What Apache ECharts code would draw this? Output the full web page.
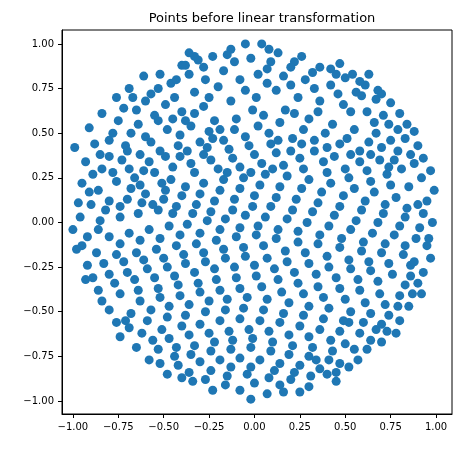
<!DOCTYPE html>
<html>
<head>
<meta charset="utf-8">
<script src="https://cdn.jsdelivr.net/npm/echarts@6/dist/echarts.min.js"></script>
<style>html,body{margin:0;padding:0;background:#fff}#main{width:461px;height:449px}</style>
</head>
<body>
<div id="main"></div>
<script>
var tickValues = [-1, -0.75, -0.5, -0.25, 0, 0.25, 0.5, 0.75, 1];
// points (x, y)
var points = [
[-0.05,1.00],[0.04,1.00],[-0.23,0.93],[-0.31,0.91],[-0.40,0.88],[-0.52,0.83],[-0.61,0.82],[-0.69,0.75],[-0.76,0.70],[-0.84,0.61],[-0.91,0.53],[-0.99,0.42],
[-0.96,0.03],[-1.00,-0.04],[-0.92,-0.24],[-0.86,-0.38],[-0.80,-0.49],[-0.74,-0.64],[-0.69,-0.59],[-0.58,-0.77],[-0.48,-0.85],[-0.34,-0.89],[-0.23,-0.94],[-0.02,-0.99],[-0.08,-0.94],
[0.98,0.00],[0.97,-0.20],[0.99,0.18],[0.97,0.29],[0.90,0.43],[0.88,0.51],[0.80,0.61],[0.75,0.67],[0.61,0.77],[0.50,0.81],[0.36,0.87],[0.22,0.90],[0.13,0.95],
[0.92,-0.40],[0.85,-0.47],[0.78,-0.62],[0.70,-0.67],[0.62,-0.71],[0.52,-0.81],[0.40,-0.85],[0.30,-0.92],[0.16,-0.95],[0.07,-0.96],
[-0.13,0.97],[-0.02,0.92],[0.09,0.90],[-0.17,0.85],[-0.27,0.80],[-0.36,0.83],[-0.46,0.78],[-0.57,0.72],[-0.44,0.70],[-0.33,0.73],[-0.20,0.76],[-0.08,0.80],[0.02,0.83],[0.16,0.82],[0.28,0.80],[0.42,0.77],[0.56,0.73],[0.67,0.69],
[-0.65,0.63],[-0.75,0.57],[-0.55,0.60],[-0.40,0.62],[-0.28,0.65],[-0.13,0.68],[0.01,0.70],[0.12,0.74],[0.24,0.70],[0.36,0.68],[0.49,0.66],[0.62,0.62],[0.74,0.55],[0.83,0.47],
[-0.88,0.44],[-0.80,0.46],[-0.68,0.50],[-0.60,0.48],[-0.48,0.52],[-0.35,0.54],[-0.22,0.57],[-0.10,0.58],[0.05,0.60],[0.17,0.63],[0.30,0.58],[0.43,0.55],[0.55,0.52],[0.67,0.50],[0.79,0.40],[0.88,0.33],
[-0.93,0.34],[-0.84,0.30],[-0.73,0.35],[-0.63,0.38],[-0.52,0.40],[-0.42,0.43],[-0.30,0.45],[-0.17,0.46],[-0.05,0.48],[0.08,0.50],[0.21,0.47],[0.33,0.46],[0.47,0.44],[0.58,0.40],[0.70,0.42],[0.81,0.30],[0.92,0.25],
[-0.95,0.22],[-0.86,0.18],[-0.76,0.23],[-0.66,0.25],[-0.55,0.28],[-0.45,0.31],[-0.35,0.33],[-0.24,0.35],[-0.12,0.36],[0.00,0.38],[0.12,0.39],[0.25,0.36],[0.38,0.34],[0.50,0.30],[0.62,0.29],[0.73,0.27],[0.85,0.20],
[-0.90,0.10],[-0.80,0.12],[-0.70,0.13],[-0.60,0.16],[-0.49,0.18],[-0.38,0.20],[-0.28,0.22],[-0.17,0.24],[-0.06,0.25],[0.06,0.27],[0.18,0.26],[0.30,0.24],[0.42,0.22],[0.55,0.19],[0.66,0.17],[0.78,0.14],[0.90,0.10],
[-0.85,0.01],[-0.74,0.03],[-0.64,0.05],[-0.53,0.07],[-0.43,0.09],[-0.32,0.10],[-0.22,0.12],[-0.11,0.13],[0.00,0.15],[0.12,0.14],[0.23,0.13],[0.35,0.11],[0.47,0.09],[0.59,0.07],[0.71,0.05],[0.83,0.03],[0.93,0.05],
[-0.92,-0.08],[-0.80,-0.08],[-0.69,-0.06],[-0.58,-0.04],[-0.47,-0.02],[-0.37,-0.01],[-0.26,0.01],[-0.16,0.02],[-0.05,0.04],[0.06,0.03],[0.18,0.02],[0.29,0.00],[0.41,-0.02],[0.53,-0.04],[0.65,-0.06],[0.77,-0.07],[0.89,-0.09],
[-0.87,-0.17],[-0.76,-0.18],[-0.65,-0.17],[-0.54,-0.15],[-0.43,-0.13],[-0.32,-0.12],[-0.21,-0.10],[-0.10,-0.08],[0.01,-0.07],[0.12,-0.09],[0.24,-0.11],[0.35,-0.12],[0.47,-0.14],[0.59,-0.16],[0.70,-0.17],[0.82,-0.18],[0.93,-0.28],
[-0.80,-0.29],[-0.70,-0.28],[-0.59,-0.26],[-0.48,-0.25],[-0.38,-0.23],[-0.27,-0.22],[-0.16,-0.20],[-0.05,-0.19],[0.07,-0.20],[0.18,-0.22],[0.30,-0.23],[0.41,-0.25],[0.53,-0.26],[0.64,-0.27],[0.76,-0.29],[0.86,-0.30],
[-0.74,-0.40],[-0.64,-0.38],[-0.53,-0.37],[-0.42,-0.35],[-0.31,-0.34],[-0.21,-0.32],[-0.10,-0.31],[0.01,-0.30],[0.13,-0.32],[0.24,-0.34],[0.35,-0.36],[0.47,-0.37],[0.58,-0.38],[0.69,-0.40],[0.80,-0.41],
[-0.68,-0.51],[-0.57,-0.49],[-0.47,-0.47],[-0.36,-0.46],[-0.25,-0.44],[-0.15,-0.43],[-0.04,-0.42],[0.07,-0.43],[0.19,-0.45],[0.30,-0.47],[0.41,-0.48],[0.53,-0.50],[0.64,-0.51],[0.74,-0.52],
[-0.62,-0.62],[-0.51,-0.60],[-0.40,-0.58],[-0.30,-0.57],[-0.19,-0.55],[-0.08,-0.54],[0.03,-0.55],[0.14,-0.56],[0.25,-0.58],[0.36,-0.60],[0.47,-0.61],[0.58,-0.62],[0.67,-0.60],
[-0.53,-0.71],[-0.43,-0.70],[-0.33,-0.69],[-0.22,-0.67],[-0.12,-0.66],[-0.01,-0.65],[0.10,-0.67],[0.21,-0.69],[0.32,-0.70],[0.43,-0.72],[0.55,-0.71],
[-0.42,-0.80],[-0.30,-0.78],[-0.19,-0.77],[-0.08,-0.76],[0.03,-0.77],[0.14,-0.79],[0.25,-0.80],[0.36,-0.82],[0.47,-0.79],
[-0.27,-0.88],[-0.15,-0.86],[-0.04,-0.85],[0.08,-0.87],[0.20,-0.88],[0.31,-0.86],
[-0.80,0.37],[-0.69,0.30],[-0.58,0.34],[-0.46,0.24],[-0.33,0.28],[-0.20,0.30],[-0.08,0.31],[0.04,0.33],[0.16,0.32],[0.27,0.30],[0.40,0.28],[0.52,0.25],[0.64,0.23],[0.75,0.21],
[-0.83,-0.23],[-0.72,-0.22],[-0.61,-0.21],[-0.50,-0.20],[-0.39,-0.18],[-0.28,-0.17],[-0.17,-0.15],[-0.06,-0.14],[0.05,-0.13],[0.17,-0.16],[0.28,-0.17],[0.40,-0.19],[0.52,-0.21],[0.63,-0.22],[0.74,-0.23],[0.86,-0.24],
[-0.60,0.68],[-0.49,0.66],[-0.38,0.57],[-0.25,0.51],[-0.11,0.52],[0.02,0.54],[0.14,0.56],[0.27,0.52],[0.39,0.50],[0.51,0.47],[0.63,0.45],[0.75,0.46],
[-0.63,-0.44],[-0.52,-0.42],[-0.41,-0.41],[-0.30,-0.39],[-0.19,-0.38],[-0.08,-0.37],[0.04,-0.36],[0.15,-0.39],[0.27,-0.40],[0.38,-0.42],[0.50,-0.43],[0.61,-0.45],[0.72,-0.46],[0.83,-0.35],
[-0.38,0.88],[-0.28,0.87],[-0.11,0.90],[0.07,0.86],[0.20,0.87],[0.32,0.84],[0.45,0.83],[0.58,0.79],[0.68,0.74],
[-0.47,-0.65],[-0.36,-0.63],[-0.25,-0.62],[-0.14,-0.61],[-0.03,-0.60],[0.08,-0.61],[0.19,-0.63],[0.30,-0.64],[0.42,-0.66],[0.52,-0.56],
[-0.74,0.09],[-0.62,0.11],[-0.50,0.13],[-0.40,0.15],[-0.30,0.16],[-0.19,0.18],[-0.08,0.19],[0.03,0.21],[0.14,0.20],[0.26,0.19],[0.37,0.17],[0.49,0.15],[0.61,0.12],[0.72,0.10],[0.84,0.08]
];
// denser clumps seen in the picture
var clumps = [
[-0.33,0.93],[-0.36,0.95],[-0.15,0.94],[0.08,0.97],[0.26,0.93],[0.42,0.86],[0.54,0.83],[0.47,0.89],[0.63,0.83],[0.59,0.71],[0.71,0.60],
[-0.53,0.57],[-0.57,0.45],[-0.49,0.37],[-0.41,0.49],[-0.45,0.58],[-0.33,0.61],[-0.26,0.42],[-0.14,0.41],[-0.19,0.52],[-0.03,0.43],[-0.01,0.63],[0.09,0.44],[0.22,0.61],[0.35,0.62],
[-0.71,0.43],[-0.78,0.28],[-0.63,0.21],[-0.51,0.22],[-0.41,0.37],[-0.28,0.38],[-0.15,0.28],[-0.02,0.28],[0.10,0.30],[0.20,0.40],[0.33,0.40],[0.44,0.37],[0.58,0.34],[0.69,0.35],[0.77,0.35],[0.86,0.38],
[-0.89,0.27],[-0.91,0.17],[-0.82,0.07],[-0.68,0.19],[-0.56,0.10],[-0.45,0.05],[-0.34,0.05],[-0.24,0.06],[-0.12,0.07],[-0.01,0.09],[0.09,0.09],[0.21,0.07],[0.32,0.06],[0.44,0.04],[0.56,0.01],[0.68,0.00],[0.80,-0.02],[0.91,-0.03],
[-0.95,-0.13],[-0.86,-0.04],[-0.74,-0.12],[-0.63,-0.10],[-0.52,-0.09],[-0.41,-0.07],[-0.30,-0.06],[-0.19,-0.04],[-0.08,-0.03],[0.02,-0.02],[0.13,-0.04],[0.24,-0.05],[0.36,-0.07],[0.48,-0.09],[0.60,-0.11],[0.72,-0.12],[0.83,-0.13],[0.95,-0.13],
[-0.89,-0.31],[-0.77,-0.34],[-0.66,-0.32],[-0.55,-0.31],[-0.44,-0.30],[-0.33,-0.28],[-0.22,-0.26],[-0.11,-0.25],[0.00,-0.24],[0.11,-0.26],[0.22,-0.28],[0.34,-0.29],[0.45,-0.31],[0.57,-0.32],[0.68,-0.33],[0.79,-0.47],[0.90,-0.34],
[-0.71,-0.55],[-0.59,-0.55],[-0.48,-0.53],[-0.38,-0.52],[-0.27,-0.50],[-0.16,-0.49],[-0.06,-0.48],[0.05,-0.49],[0.16,-0.51],[0.27,-0.52],[0.38,-0.54],[0.49,-0.55],[0.60,-0.56],[0.70,-0.57],
[-0.56,-0.66],[-0.44,-0.75],[-0.35,-0.74],[-0.24,-0.72],[-0.13,-0.71],[-0.02,-0.70],[0.09,-0.72],[0.19,-0.74],[0.30,-0.75],[0.41,-0.77],[0.50,-0.68],
[-0.36,-0.84],[-0.24,-0.83],[-0.13,-0.81],[-0.02,-0.81],[0.11,-0.83],[0.22,-0.84],[0.34,-0.77],[0.45,-0.84],[-0.16,-0.91],[0.00,-0.90],[0.14,-0.91],[0.25,-0.95],
[-0.67,0.70],[-0.72,0.64],[-0.78,0.50],[-0.85,0.38],[-0.97,0.11],[-0.98,-0.15],[-0.93,-0.32],[-0.84,-0.44],[-0.76,-0.56],[-0.65,-0.70],[-0.52,-0.79],[-0.40,-0.87],
[0.93,0.36],[0.95,0.12],[0.96,-0.09],[0.88,-0.22],[0.87,-0.40],[0.80,-0.55],[0.73,-0.61],[0.64,-0.66],[0.57,-0.77],[0.45,-0.89],[0.84,0.55],[0.70,0.72],
[-0.43,0.80],[-0.53,0.75],[-0.25,0.70],[-0.05,0.74],[0.07,0.78],[0.20,0.77],[0.33,0.75],[0.46,0.72],[0.53,0.62],[0.66,0.56],[0.79,0.52],
[-0.64,0.55],[-0.70,0.40],[-0.61,0.29],[-0.37,0.40],[-0.23,0.47],[0.13,0.46],[0.26,0.44],[0.40,0.42],[0.53,0.38],[0.64,0.38],[0.74,0.31]
];

var chart = echarts.init(document.getElementById('main'));
chart.setOption({
  animation: false,
  title: {
    text: 'Points before linear transformation',
    left: 257, top: 7, textAlign: 'center',
    textStyle: { fontFamily: 'DejaVu Sans', fontSize: 13, fontWeight: 'normal', color: '#000' }
  },
  grid: { left: 62, right: 9, top: 30, bottom: 35 },
  xAxis: {
    type: 'value', min: -1.06, max: 1.088,
    splitLine: { show: false },
    axisLine: { onZero: false, lineStyle: { color: '#000' } },
    axisTick: { show: true, length: 4, lineStyle: { color: '#000' }, customValues: tickValues },
    axisLabel: { color: '#000', fontFamily: 'DejaVu Sans', fontSize: 10, customValues: tickValues,
      formatter: function (v) { return v.toFixed(2).replace('-', '\u2212'); } }
  },
  yAxis: {
    type: 'value', min: -1.073, max: 1.078,
    splitLine: { show: false },
    axisLine: { show: true, onZero: false, lineStyle: { color: '#000' } },
    axisTick: { show: true, length: 4, lineStyle: { color: '#000' }, customValues: tickValues },
    axisLabel: { color: '#000', fontFamily: 'DejaVu Sans', fontSize: 10, customValues: tickValues,
      formatter: function (v) { return v.toFixed(2).replace('-', '\u2212'); } }
  },
  series: [{
    type: 'scatter',
    data: points.concat(clumps),
    symbolSize: 9,
    itemStyle: { color: '#1f77b4', opacity: 1 }
  }],
  graphic: [{ type: 'rect', shape: { x: 62, y: 30, width: 390, height: 384 }, style: { fill: 'none', stroke: '#000', lineWidth: 1 }, silent: true }]
});
</script>
</body>
</html>
